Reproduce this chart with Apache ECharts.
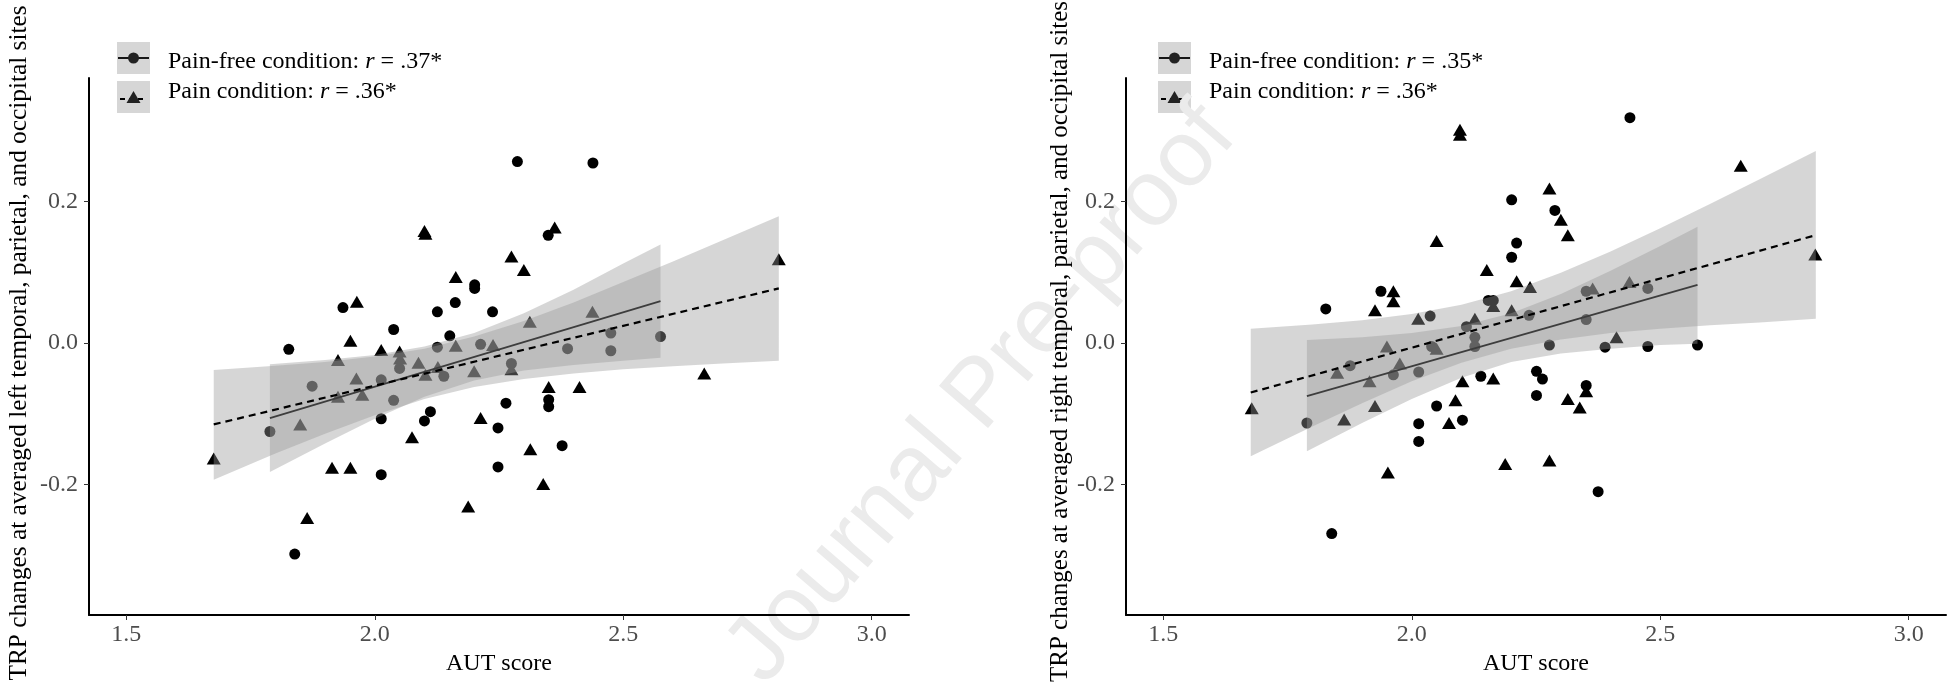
<!DOCTYPE html>
<html>
<head>
<meta charset="utf-8">
<script src="https://cdn.jsdelivr.net/npm/echarts@6/dist/echarts.min.js"></script>
<style>
  html, body {margin: 0; padding: 0; background: #fff;}
  #chart {width: 1948px; height: 685px;}
</style>
</head>
<body>
<div id="chart"></div>
<script>
// axis ticks
const xTicks = [1.5, 2.0, 2.5, 3.0];
const yTicks = [-0.2, 0.0, 0.2];

// left panel: pain-free (circles) and pain (triangles), [AUT score, TRP change]
const leftFree = [
  [2.201, 0.082], [2.201, 0.077], [1.936, 0.050], [2.126, 0.044], [2.162, 0.057],
  [2.237, 0.044], [2.038, 0.019], [1.827, -0.009], [2.151, 0.010], [2.126, -0.006],
  [2.213, -0.002], [2.050, -0.036], [2.013, -0.052], [2.139, -0.047], [1.874, -0.061],
  [2.038, -0.081], [2.013, -0.107], [2.100, -0.110], [2.112, -0.097], [1.789, -0.125],
  [2.248, -0.120], [2.248, -0.175], [2.013, -0.186], [1.839, -0.298], [2.287, 0.256],
  [2.439, 0.254], [2.349, 0.152], [2.388, -0.008], [2.475, 0.014], [2.475, -0.011],
  [2.575, 0.009], [2.275, -0.029], [2.264, -0.085], [2.350, -0.080], [2.350, -0.090],
  [2.377, -0.145]
];
const leftPain = [
  [2.100, 0.158], [2.102, 0.154], [2.163, 0.093], [1.964, 0.058], [1.951, 0.003],
  [2.013, -0.010], [2.050, -0.012], [2.051, -0.022], [2.163, -0.004], [2.238, -0.003],
  [1.926, -0.024], [2.088, -0.028], [1.963, -0.050], [2.102, -0.045], [2.127, -0.034],
  [2.200, -0.040], [1.926, -0.076], [1.975, -0.073], [2.213, -0.106], [1.850, -0.115],
  [1.676, -0.163], [2.075, -0.133], [1.914, -0.176], [1.951, -0.176], [2.188, -0.231],
  [1.864, -0.247], [2.362, 0.163], [2.275, 0.122], [2.300, 0.103], [2.312, 0.030],
  [2.438, 0.044], [2.275, -0.037], [2.663, -0.043], [2.813, 0.118], [2.350, -0.062],
  [2.412, -0.062], [2.313, -0.150], [2.339, -0.199]
];

// right panel
const rightFree = [
  [2.439, 0.318], [2.201, 0.202], [2.211, 0.141], [2.201, 0.121], [1.938, 0.073],
  [1.827, 0.048], [2.154, 0.060], [2.164, 0.060], [2.037, 0.038], [2.110, 0.023],
  [2.127, 0.008], [2.127, -0.005], [2.040, -0.005], [1.876, -0.032], [1.963, -0.045],
  [2.014, -0.041], [2.139, -0.047], [2.050, -0.089], [1.789, -0.113], [2.014, -0.114],
  [2.014, -0.139], [2.102, -0.109], [1.839, -0.269], [2.288, 0.187], [2.351, 0.073],
  [2.475, 0.077], [2.236, 0.039], [2.351, 0.033], [2.277, -0.003], [2.389, -0.006],
  [2.475, -0.005], [2.575, -0.003], [2.251, -0.040], [2.263, -0.051], [2.251, -0.074],
  [2.351, -0.060], [2.375, -0.210]
];
const rightPain = [
  [2.097, 0.301], [2.097, 0.294], [2.050, 0.144], [2.151, 0.103], [2.211, 0.087],
  [1.963, 0.073], [1.963, 0.059], [1.926, 0.046], [2.164, 0.052], [2.013, 0.034],
  [2.127, 0.034], [2.201, 0.046], [1.950, -0.005], [2.050, -0.008], [1.976, -0.029],
  [1.850, -0.042], [1.915, -0.054], [2.102, -0.054], [2.164, -0.050], [1.678, -0.092],
  [1.926, -0.089], [2.088, -0.081], [1.864, -0.108], [2.075, -0.113], [1.952, -0.183],
  [2.188, -0.171], [2.662, 0.250], [2.277, 0.218], [2.300, 0.174], [2.314, 0.152],
  [2.238, 0.079], [2.364, 0.077], [2.438, 0.086], [2.412, 0.008], [2.812, 0.125],
  [2.314, -0.079], [2.338, -0.091], [2.351, -0.068], [2.277, -0.166]
];

// fitted lines (end points)
const leftFreeFit = [[1.789, -0.106], [2.575, 0.059]];
const leftPainFit = [[1.676, -0.115], [2.813, 0.077]];
const rightFreeFit = [[1.789, -0.075], [2.575, 0.082]];
const rightPainFit = [[1.676, -0.070], [2.812, 0.152]];

// confidence bands
const freeBandX = [1.789, 1.9, 2.0, 2.1, 2.2, 2.3, 2.4, 2.5, 2.575];
const painBandX = [1.676, 1.8, 1.9, 2.0, 2.1, 2.2, 2.3, 2.4, 2.5, 2.6, 2.7, 2.813];
const leftFreeLow = [-0.182, -0.142, -0.107, -0.076, -0.053, -0.039, -0.031, -0.025, -0.021];
const leftFreeHigh = [-0.030, -0.024, -0.017, -0.005, 0.014, 0.042, 0.075, 0.112, 0.139];
const leftPainLow = [-0.193, -0.156, -0.128, -0.102, -0.079, -0.062, -0.051, -0.043, -0.037, -0.033, -0.029, -0.025];
const leftPainHigh = [-0.038, -0.032, -0.027, -0.019, -0.008, 0.009, 0.031, 0.057, 0.086, 0.115, 0.145, 0.179];
const rightFreeLow = [-0.153, -0.113, -0.079, -0.049, -0.027, -0.015, -0.008, -0.003, -0.001];
const rightFreeHigh = [0.004, 0.008, 0.014, 0.024, 0.042, 0.069, 0.102, 0.137, 0.164];
const rightPainLow = [-0.160, -0.118, -0.085, -0.054, -0.028, -0.008, 0.005, 0.014, 0.020, 0.025, 0.029, 0.034];
const rightPainHigh = [0.020, 0.026, 0.032, 0.041, 0.054, 0.073, 0.099, 0.129, 0.162, 0.196, 0.231, 0.271];

const yTitles = [
  'TRP changes at averaged left temporal, parietal, and occipital sites',
  'TRP changes at averaged right temporal, parietal, and occipital sites'
];
const legendR = [['.37*', '.36*'], ['.35*', '.36*']];

const serif = "'Liberation Serif', 'Times New Roman', serif";
const bandFill = 'rgba(153,153,153,0.4)';
const gridBoxes = [
  {left: 89, top: 78, width: 820, height: 537, outerBoundsMode: 'none'},
  {left: 1126, top: 78, width: 820, height: 537, outerBoundsMode: 'none'}
];
const legendX = [117, 1158];
const yNameGap = [57, 53];
const yNameSize = [25.3, 25];
const yNameShift = [7, 10];

function ribbon(idx, xs, lo, hi, z) {
  return {
    type: 'custom', xAxisIndex: idx, yAxisIndex: idx, z: z, silent: true,
    data: xs.map((x, i) => [x, lo[i], hi[i]]),
    encode: {x: 0, y: [1, 2]},
    renderItem: function (params, api) {
      if (params.dataIndex !== 0) return null;
      const top = xs.map((x, i) => api.coord([x, hi[i]]));
      const bottom = xs.map((x, i) => api.coord([x, lo[i]])).reverse();
      return {type: 'polygon', shape: {points: top.concat(bottom)}, style: {fill: bandFill}};
    }
  };
}

function panelSeries(idx, free, pain, freeFit, painFit, freeLo, freeHi, painLo, painHi) {
  return [
    {type: 'scatter', xAxisIndex: idx, yAxisIndex: idx, z: 1, data: free,
      symbol: 'circle', symbolSize: 11, itemStyle: {color: '#000', opacity: 1}},
    {type: 'scatter', xAxisIndex: idx, yAxisIndex: idx, z: 1, data: pain,
      symbol: 'triangle', symbolSize: [14, 12], itemStyle: {color: '#000', opacity: 1}},
    ribbon(idx, freeBandX, freeLo, freeHi, 2),
    {type: 'line', xAxisIndex: idx, yAxisIndex: idx, z: 3, data: freeFit, showSymbol: false,
      lineStyle: {color: '#000', width: 1.8}},
    ribbon(idx, painBandX, painLo, painHi, 4),
    {type: 'line', xAxisIndex: idx, yAxisIndex: idx, z: 5, data: painFit, showSymbol: false,
      lineStyle: {color: '#000', width: 2.2, type: [7, 5]}}
  ];
}

function legendGraphics(p) {
  const x0 = legendX[p];
  const els = [];
  const rows = [
    {top: 42, text: 'Pain-free condition: {i|r} = ' + legendR[p][0], ty: 62, shape: 'circle'},
    {top: 81, text: 'Pain condition: {i|r} = ' + legendR[p][1], ty: 92, shape: 'triangle'}
  ];
  rows.forEach(function (r) {
    const cy = r.top + 16;
    els.push({type: 'rect', shape: {x: x0, y: r.top, width: 33, height: 32}, style: {fill: bandFill}});
    if (r.shape === 'circle') {
      els.push({type: 'line', shape: {x1: x0 + 1, y1: cy, x2: x0 + 32, y2: cy}, style: {stroke: '#000', lineWidth: 1.8}});
      els.push({type: 'circle', shape: {cx: x0 + 16.5, cy: cy, r: 5.5}, style: {fill: '#222'}});
    } else {
      els.push({type: 'line', shape: {x1: x0 + 3, y1: cy + 2, x2: x0 + 30, y2: cy + 2},
        style: {stroke: '#000', lineWidth: 2, lineDash: [5, 4]}});
      els.push({type: 'polygon', shape: {points: [[x0 + 9.5, cy + 6], [x0 + 23.5, cy + 6], [x0 + 16.5, cy - 6]]}, style: {fill: '#222'}});
    }
    els.push({type: 'text', x: x0 + 51, y: r.ty, style: {
      text: r.text, fill: '#000', font: '24px ' + serif, verticalAlign: 'middle',
      rich: {i: {fontStyle: 'italic', fontSize: 24, fontFamily: serif, fill: '#000'}}
    }});
  });
  return els;
}

function xAxisOpt(idx) {
  return {
    type: 'value', gridIndex: idx, min: 1.425, max: 3.075,
    name: 'AUT score', nameLocation: 'middle', nameGap: 31,
    nameTextStyle: {fontSize: 24, color: '#000', fontFamily: serif},
    axisLine: {show: true, onZero: false, lineStyle: {color: '#000', width: 2}},
    axisTick: {show: true, length: 5, customValues: xTicks, lineStyle: {color: '#333', width: 1}},
    axisLabel: {customValues: xTicks, margin: 8, fontSize: 24, color: '#4d4d4d', fontFamily: serif,
      formatter: v => v.toFixed(1)},
    splitLine: {show: false}
  };
}

function yAxisOpt(idx) {
  return {
    type: 'value', gridIndex: idx, min: -0.384, max: 0.374,
    name: yTitles[idx], nameLocation: 'middle', nameGap: yNameGap[idx], nameRotate: 90,
    nameTextStyle: {fontSize: yNameSize[idx], color: '#000', fontFamily: serif,
      padding: [0, 0, 0, yNameShift[idx]]},
    axisLine: {show: true, onZero: false, lineStyle: {color: '#000', width: 2}},
    axisTick: {show: true, length: 5, customValues: yTicks, lineStyle: {color: '#333', width: 1}},
    axisLabel: {customValues: yTicks, margin: 11, fontSize: 24, color: '#4d4d4d', fontFamily: serif,
      formatter: v => v.toFixed(1)},
    splitLine: {show: false}
  };
}

const chart = echarts.init(document.getElementById('chart'));
chart.setOption({
  animation: false,
  backgroundColor: '#fff',
  grid: gridBoxes,
  xAxis: [xAxisOpt(0), xAxisOpt(1)],
  yAxis: [yAxisOpt(0), yAxisOpt(1)],
  series: panelSeries(0, leftFree, leftPain, leftFreeFit, leftPainFit,
      leftFreeLow, leftFreeHigh, leftPainLow, leftPainHigh)
    .concat(panelSeries(1, rightFree, rightPain, rightFreeFit, rightPainFit,
      rightFreeLow, rightFreeHigh, rightPainLow, rightPainHigh)),
  graphic: legendGraphics(0).concat(legendGraphics(1)).concat([
    {type: 'text', x: 982, y: 395, rotation: 0.86, z: 0, silent: true, style: {
      text: 'Journal Pre-proof', fill: '#ebebeb',
      font: "94px 'Liberation Sans', Arial, sans-serif", align: 'center', verticalAlign: 'middle'
    }}
  ])
});
</script>
</body>
</html>
